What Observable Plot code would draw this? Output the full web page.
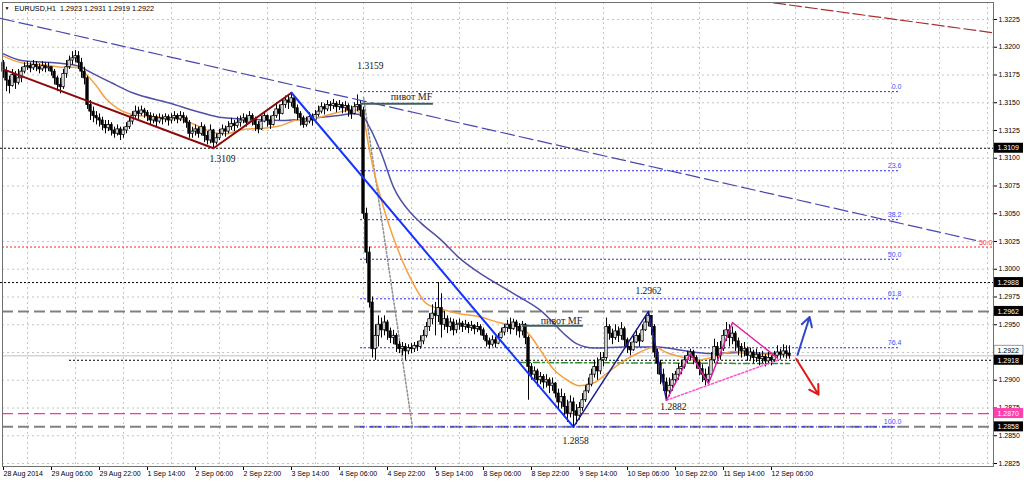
<!DOCTYPE html>
<html><head><meta charset="utf-8">
<script src="https://cdn.jsdelivr.net/npm/d3@7"></script>
<script src="https://cdn.jsdelivr.net/npm/@observablehq/plot@0.6"></script>
<style>html,body{margin:0;padding:0;background:#fff;} svg{display:block}</style>
</head><body><div id="chart"></div>
<script>
// ---- Candle data (EURUSD H1), bar index 0 = 28 Aug 14:00 ----
const firstOpen = 1.3186;
const closes = [
1.3178,1.3170,1.3165,1.3175,1.3168,1.3172,1.3178,1.3182,
1.3183,1.3181,1.3184,1.3182,1.3180,1.3183,1.3181,1.3182,
1.3178,1.3172,1.3166,1.3164,1.3176,1.3182,1.3188,1.3190,
1.3192,1.3186,1.3178,1.3172,1.3148,1.3142,1.3138,1.3136,
1.3134,1.3130,1.3127,1.3130,1.3125,1.3122,1.3126,1.3121,
1.3125,1.3128,1.3133,1.3138,1.3142,1.3140,1.3143,1.3141,
1.3138,1.3134,1.3137,1.3133,1.3136,1.3135,1.3137,1.3134,
1.3136,1.3138,1.3135,1.3138,1.3136,1.3132,1.3122,1.3124,
1.3126,1.3122,1.3128,1.3120,1.3116,1.3125,1.3114,1.3118,
1.3122,1.3126,1.3124,1.3128,1.3131,1.3129,1.3132,1.3134,
1.3136,1.3132,1.3138,1.3135,1.3130,1.3126,1.3133,1.3138,
1.3134,1.3130,1.3138,1.3144,1.3140,1.3148,1.3152,1.3150,
1.3154,1.3145,1.3140,1.3136,1.3130,1.3133,1.3137,1.3134,
1.3139,1.3142,1.3146,1.3144,1.3148,1.3147,1.3149,1.3146,
1.3148,1.3145,1.3147,1.3143,1.3140,1.3146,1.3148,1.3143,
1.3050,1.3015,1.2970,1.2928,1.2940,1.2950,1.2945,1.2952,
1.2944,1.2938,1.2940,1.2932,1.2928,1.2930,1.2926,1.2929,
1.2928,1.2931,1.2930,1.2935,1.2940,1.2948,1.2955,1.2960,
1.2958,1.2965,1.2950,1.2955,1.2948,1.2952,1.2945,1.2950,
1.2951,1.2948,1.2950,1.2947,1.2949,1.2946,1.2948,1.2945,
1.2940,1.2935,1.2932,1.2936,1.2933,1.2938,1.2943,1.2947,
1.2950,1.2946,1.2952,1.2948,1.2944,1.2950,1.2938,1.2912,
1.2905,1.2908,1.2900,1.2903,1.2898,1.2900,1.2895,1.2897,
1.2888,1.2880,1.2885,1.2876,1.2870,1.2880,1.2872,1.2868,
1.2875,1.2882,1.2890,1.2896,1.2905,1.2912,1.2908,1.2918,
1.2920,1.2948,1.2942,1.2938,1.2944,1.2940,1.2946,1.2936,
1.2930,1.2927,1.2934,1.2940,1.2935,1.2945,1.2952,1.2958,
1.2948,1.2925,1.2915,1.2905,1.2898,1.2890,1.2895,1.2900,
1.2905,1.2910,1.2912,1.2918,1.2922,1.2925,1.2920,1.2916,
1.2910,1.2905,1.2900,1.2905,1.2918,1.2930,1.2922,1.2928,
1.2940,1.2945,1.2938,1.2942,1.2935,1.2930,1.2926,1.2928,
1.2922,1.2925,1.2920,1.2923,1.2919,1.2921,1.2917,1.2920,
1.2918,1.2922,1.2925,1.2923,1.2926,1.2924,1.2922];
const highs = [
1.3188,1.3182,1.3174,1.3180,1.3178,1.3180,1.3182,1.3186,
1.3187,1.3186,1.3188,1.3187,1.3185,1.3187,1.3186,1.3186,
1.3182,1.3180,1.3174,1.3172,1.3180,1.3188,1.3192,1.3196,
1.3197,1.3196,1.3190,1.3182,1.3174,1.3152,1.3146,1.3142,
1.3140,1.3137,1.3134,1.3134,1.3132,1.3128,1.3130,1.3128,
1.3128,1.3132,1.3137,1.3142,1.3147,1.3146,1.3147,1.3145,
1.3143,1.3141,1.3140,1.3139,1.3140,1.3139,1.3140,1.3139,
1.3140,1.3142,1.3140,1.3142,1.3141,1.3138,1.3134,1.3128,
1.3130,1.3128,1.3132,1.3130,1.3124,1.3130,1.3126,1.3122,
1.3126,1.3130,1.3129,1.3133,1.3136,1.3134,1.3137,1.3138,
1.3140,1.3139,1.3142,1.3140,1.3137,1.3133,1.3138,1.3142,
1.3139,1.3138,1.3142,1.3150,1.3148,1.3153,1.3156,1.3157,
1.3159,1.3156,1.3148,1.3142,1.3138,1.3137,1.3141,1.3140,
1.3143,1.3147,1.3150,1.3149,1.3152,1.3151,1.3153,1.3151,
1.3152,1.3150,1.3151,1.3149,1.3147,1.3150,1.3157,1.3152,
1.3146,1.3055,1.3020,1.2975,1.2950,1.2958,1.2956,1.2958,
1.2954,1.2947,1.2945,1.2942,1.2935,1.2934,1.2933,1.2932,
1.2933,1.2934,1.2935,1.2940,1.2945,1.2952,1.2960,1.2968,
1.2970,1.2988,1.2978,1.2962,1.2958,1.2956,1.2955,1.2954,
1.2955,1.2953,1.2954,1.2952,1.2953,1.2950,1.2952,1.2950,
1.2947,1.2942,1.2938,1.2940,1.2939,1.2942,1.2947,1.2950,
1.2954,1.2956,1.2955,1.2954,1.2951,1.2953,1.2951,1.2940,
1.2915,1.2912,1.2910,1.2907,1.2905,1.2905,1.2902,1.2902,
1.2898,1.2892,1.2892,1.2888,1.2882,1.2886,1.2884,1.2878,
1.2880,1.2888,1.2895,1.2902,1.2910,1.2918,1.2920,1.2925,
1.2925,1.2956,1.2950,1.2946,1.2950,1.2948,1.2952,1.2948,
1.2938,1.2934,1.2940,1.2946,1.2942,1.2950,1.2958,1.2962,
1.2958,1.2950,1.2928,1.2918,1.2910,1.2902,1.2902,1.2906,
1.2908,1.2915,1.2918,1.2922,1.2926,1.2928,1.2927,1.2922,
1.2918,1.2914,1.2910,1.2912,1.2925,1.2937,1.2934,1.2935,
1.2945,1.2952,1.2950,1.2948,1.2944,1.2938,1.2933,1.2934,
1.2930,1.2929,1.2927,1.2928,1.2925,1.2926,1.2923,1.2925,
1.2922,1.2926,1.2931,1.2928,1.2932,1.2931,1.2931];
const lows = [
1.3172,1.3160,1.3158,1.3164,1.3162,1.3166,1.3168,1.3176,
1.3179,1.3177,1.3179,1.3178,1.3176,1.3178,1.3177,1.3178,
1.3174,1.3166,1.3160,1.3158,1.3162,1.3172,1.3180,1.3184,
1.3186,1.3180,1.3172,1.3166,1.3144,1.3134,1.3132,1.3130,
1.3128,1.3125,1.3122,1.3124,1.3120,1.3118,1.3120,1.3116,
1.3118,1.3122,1.3126,1.3130,1.3136,1.3135,1.3138,1.3136,
1.3133,1.3130,1.3131,1.3128,1.3131,1.3130,1.3132,1.3129,
1.3131,1.3133,1.3131,1.3133,1.3131,1.3127,1.3118,1.3118,
1.3120,1.3118,1.3120,1.3114,1.3112,1.3113,1.3109,1.3112,
1.3116,1.3120,1.3119,1.3122,1.3125,1.3124,1.3127,1.3128,
1.3131,1.3128,1.3131,1.3129,1.3124,1.3122,1.3125,1.3132,
1.3128,1.3126,1.3129,1.3136,1.3134,1.3139,1.3145,1.3144,
1.3146,1.3140,1.3134,1.3129,1.3127,1.3128,1.3131,1.3129,
1.3133,1.3137,1.3140,1.3139,1.3142,1.3142,1.3144,1.3141,
1.3143,1.3140,1.3141,1.3137,1.3135,1.3139,1.3142,1.3137,
1.3045,1.3005,1.2965,1.2920,1.2918,1.2930,1.2938,1.2940,
1.2936,1.2933,1.2932,1.2925,1.2924,1.2922,1.2918,1.2923,
1.2924,1.2925,1.2926,1.2928,1.2932,1.2938,1.2944,1.2950,
1.2940,1.2952,1.2938,1.2945,1.2942,1.2944,1.2940,1.2942,
1.2945,1.2943,1.2945,1.2942,1.2944,1.2941,1.2943,1.2940,
1.2936,1.2930,1.2928,1.2930,1.2929,1.2932,1.2937,1.2940,
1.2943,1.2941,1.2945,1.2940,1.2938,1.2940,1.2932,1.2882,
1.2900,1.2900,1.2894,1.2896,1.2892,1.2893,1.2888,1.2890,
1.2884,1.2874,1.2874,1.2868,1.2862,1.2866,1.2858,1.2860,
1.2864,1.2872,1.2880,1.2888,1.2894,1.2902,1.2900,1.2905,
1.2912,1.2918,1.2936,1.2932,1.2936,1.2934,1.2936,1.2930,
1.2924,1.2922,1.2926,1.2933,1.2930,1.2934,1.2944,1.2948,
1.2940,1.2920,1.2905,1.2896,1.2890,1.2882,1.2885,1.2890,
1.2896,1.2900,1.2905,1.2910,1.2915,1.2918,1.2914,1.2910,
1.2904,1.2898,1.2895,1.2898,1.2904,1.2915,1.2915,1.2918,
1.2926,1.2935,1.2930,1.2932,1.2926,1.2922,1.2920,1.2921,
1.2917,1.2918,1.2915,1.2916,1.2913,1.2915,1.2912,1.2914,
1.2913,1.2916,1.2919,1.2918,1.2920,1.2919,1.2919];

// ---- Moving averages (bar index, price) ----
const fastMaIdx = [0,6,14,20,24,27,31,34,38,42,47,52,59,64,69,74,80,86,92,97,104,111,117,120,122,124,126,128,132,137,141,146,152,159,165,170,175,179,183,188,192,197,201,207,212,217,221,226,231,238,243,250,258,262];
const fastMaVal = [1.3192,1.3186,1.3184,1.3182,1.3182,1.3177,1.3165,1.3154,1.3145,1.3140,1.3138,1.3137,1.3135,1.3130,1.3124,1.3122,1.3126,1.3127,1.3129,1.3134,1.3136,1.3141,1.3144,1.3135,1.3107,1.3082,1.3062,1.3044,1.3014,1.2985,1.2969,1.2964,1.2960,1.2957,1.2952,1.2949,1.2942,1.2927,1.2911,1.2900,1.2895,1.2898,1.2906,1.2918,1.2925,1.2930,1.2925,1.2921,1.2918,1.2922,1.2926,1.2924,1.2923,1.2922];
const slowMaIdx = [0,6,21,26,28,36,43,55,66,72,83,93,99,110,117,120,122,126,130,136,139,146,152,159,167,172,179,188,191,197,207,218,226,236,245,256,262];
const slowMaVal = [1.3194,1.3188,1.3185,1.3182,1.3179,1.3168,1.3159,1.3150,1.3141,1.3137,1.3135,1.3134,1.3135,1.3138,1.3140,1.3137,1.3128,1.3104,1.3074,1.3050,1.3042,1.3026,1.3010,1.2996,1.2983,1.2975,1.2963,1.2939,1.2933,1.2929,1.2930,1.2930,1.2927,1.2924,1.2925,1.2924,1.2924];
const longMaIdx = [172, 262];
const longMaVal = [1.2916, 1.2915];

// ---- Axis ticks ----
const priceTicks = [1.2825,1.2850,1.2875,1.2900,1.2925,1.2950,1.2975,1.3000,1.3025,1.3050,1.3075,1.3100,1.3125,1.3150,1.3175,1.3200,1.3225];
const timeTickIdx = [0,16,32,48,64,80,96,112,128,144,160,176,192,208,224,240,256];
const timeLabels = ["28 Aug 2014","29 Aug 06:00","29 Aug 22:00","1 Sep 14:00","2 Sep 06:00","2 Sep 22:00","3 Sep 14:00","4 Sep 06:00","4 Sep 22:00","5 Sep 14:00","8 Sep 06:00","8 Sep 22:00","9 Sep 14:00","10 Sep 06:00","10 Sep 22:00","11 Sep 14:00","12 Sep 06:00"];
const gridXIdx = [8,24,40,56,72,88,104,120,136,152,168,184,200,216,232,248,264,280,296,312,328];
const titleText = "EURUSD,H1  1.2923 1.2931 1.2919 1.2922";

// ---- Horizontal levels ----
const dottedLevels = [1.3109, 1.2988, 1.2918];
const dottedStartIdx = [-1, -1, 22];
const grayDashLevels = [1.2962, 1.2858];
const pinkDashLevels = [1.2870];
const redDotLevels = [1.3020];
const redDotLabels = ["50.0"];
const bidPrice = 1.2922;
const blackBoxLevels = [1.3109, 1.2988, 1.2962, 1.2918, 1.2858];
const pinkBoxLevels = [1.2870];

// ---- Fibonacci ----
const fibHigh = 1.3160, fibLow = 1.2858;
const fibRatios = [0, 23.6, 38.2, 50, 61.8, 76.4, 100];
const fibStartIdx = 119, fibEndIdx = 299;
const fibDiagIdx = [120, 136.3];
const fibDiagVal = [1.3155, 1.2858];

// ---- Drawn objects ----
const maroonZigIdx = [0, 70, 96];
const maroonZigVal = [1.3180, 1.3109, 1.3159];
const blueZigIdx = [96, 190];
const blueZigVal = [1.3159, 1.2858];
const navyZigIdx = [190, 215, 221];
const navyZigVal = [1.2858, 1.2962, 1.2882];
const pinkZigIdx = [221, 229, 235, 243, 258];
const pinkZigVal = [1.2882, 1.2924, 1.2897, 1.2952, 1.2920];
const pinkTrendIdx = [221, 259];
const pinkTrendVal = [1.2882, 1.2919];
const blueTrendIdx = [-1, 324];
const blueTrendVal = [1.3226, 1.3026];
const brownTrendIdx = [256.7, 330];
const brownTrendVal = [1.3240, 1.3213];
const upArrow = {i1: 264.7, p1: 1.2923, i2: 268.7, p2: 1.2957};
const downArrow = {i1: 264.3, p1: 1.2919, i2: 271.7, p2: 1.2887};

// ---- Text annotations ----
const annoText = ["1.3159", "1.3109", "1.2962", "1.2882", "1.2858"];
const annoIdx = [122.3, 73, 215, 223.3, 190.7];
const annoVal = [1.3183, 1.3099, 1.2980, 1.2876, 1.2845];
const pivotText = ["пивот MF", "пивот MF"];
const pivotTextIdx = [136, 186];
const pivotTextVal = [1.3155, 1.2954];
const pivotLineIdx1 = [119, 173];
const pivotLineIdx2 = [143.3, 193.3];
const pivotLineVal = [1.3149, 1.2949];

// ---- Build tables ----
const candles = closes.map((c, i) => {
  const o = i === 0 ? firstOpen : closes[i - 1];
  return {i, o, c, h: Math.max(highs[i], o, c), l: Math.min(lows[i], o, c)};
});
const pts = (idx, val) => idx.map((i, k) => ({i, p: val[k]}));
const fibLevels = fibRatios.map(r => ({r, p: fibHigh - r / 100 * (fibHigh - fibLow)}));
const X_END = 330, X_BOX2 = 340;
const BOX_H = 0.00045;

const serif = "'Liberation Serif', 'Times New Roman', serif";
const sans = "'Liberation Sans', Arial, sans-serif";

const chart = Plot.plot({
  width: 1024, height: 482,
  marginLeft: 2, marginRight: 31, marginTop: 2, marginBottom: 16,
  x: {domain: [-1/3, 330], axis: null},
  y: {domain: [1.28223, 1.32403], axis: null},
  style: {background: "#fff", fontFamily: sans, fontSize: "7px", overflow: "visible"},
  marks: [
    // grid
    Plot.ruleX(gridXIdx, {x: d => d, stroke: "#c4c4c4", strokeDasharray: "2,3"}),
    Plot.ruleY(priceTicks, {y: d => d, stroke: "#c4c4c4", strokeDasharray: "2,3"}),
    // horizontal levels
    Plot.ruleY(redDotLevels, {y: d => d, stroke: "#ff2020", strokeDasharray: "2,2"}),
    Plot.ruleY(dottedLevels, {y: d => d, x1: (d, k) => dottedStartIdx[k], x2: X_END, stroke: "#000", strokeDasharray: "2,2"}),
    Plot.ruleY([bidPrice], {y: d => d, stroke: "#c0c0c0"}),
    Plot.ruleY(grayDashLevels, {y: d => d, stroke: "#808080", strokeWidth: 2, strokeDasharray: "11,5"}),
    Plot.ruleY(pinkDashLevels, {y: d => d, stroke: "#ff30a8", strokeWidth: 1.2, strokeDasharray: "11,5"}),
    // fibonacci
    Plot.ruleY(fibLevels.filter(d => d.r !== 100), {y: "p", x1: fibStartIdx, x2: fibEndIdx, stroke: "#2a2aff", strokeDasharray: "2,2"}),
    Plot.ruleY(fibLevels.filter(d => d.r === 100), {y: "p", x1: fibStartIdx, x2: fibEndIdx, stroke: "#2a2aff", strokeDasharray: "4,2,1,2"}),
    Plot.line(pts(fibDiagIdx, fibDiagVal), {x: "i", y: "p", stroke: "#909090", strokeDasharray: "2,2"}),
    // moving averages
    Plot.line(pts(longMaIdx, longMaVal), {x: "i", y: "p", stroke: "#2e8b2e", strokeDasharray: "6,3,2,3"}),
    Plot.line(pts(slowMaIdx, slowMaVal), {x: "i", y: "p", stroke: "#5050a8", curve: "monotone-x"}),
    Plot.line(pts(fastMaIdx, fastMaVal), {x: "i", y: "p", stroke: "#f7a040", curve: "monotone-x"}),
    // candles
    Plot.ruleX(candles, {x: "i", y1: "l", y2: "h", stroke: "#000"}),
    Plot.rect(candles, {x1: d => d.i - 0.4, x2: d => d.i + 0.4, y1: "o", y2: "c",
      fill: d => d.c >= d.o ? "#fff" : "#000", stroke: "#000", strokeWidth: 0.8}),
    // trend lines
    Plot.line(pts(blueTrendIdx, blueTrendVal), {x: "i", y: "p", stroke: "#4848b0", strokeWidth: 1.2, strokeDasharray: "14,5"}),
    Plot.line(pts(brownTrendIdx, brownTrendVal), {x: "i", y: "p", stroke: "#a83030", strokeWidth: 1.2, strokeDasharray: "12,4"}),
    Plot.line(pts(maroonZigIdx, maroonZigVal), {x: "i", y: "p", stroke: "#8b0a0a", strokeWidth: 2}),
    Plot.line(pts(blueZigIdx, blueZigVal), {x: "i", y: "p", stroke: "#1535ff", strokeWidth: 2}),
    Plot.line(pts(navyZigIdx, navyZigVal), {x: "i", y: "p", stroke: "#1c1c8c", strokeWidth: 1.5}),
    Plot.line(pts(pinkTrendIdx, pinkTrendVal), {x: "i", y: "p", stroke: "#ff50d0", strokeDasharray: "2,2"}),
    Plot.line(pts(pinkZigIdx, pinkZigVal), {x: "i", y: "p", stroke: "#e01fa8", strokeWidth: 1.5}),
    Plot.arrow([upArrow], {x1: "i1", y1: "p1", x2: "i2", y2: "p2", stroke: "#3048c8", strokeWidth: 2, headLength: 8}),
    Plot.arrow([downArrow], {x1: "i1", y1: "p1", x2: "i2", y2: "p2", stroke: "#e01818", strokeWidth: 2, headLength: 8}),
    // pivot lines and texts
    Plot.ruleY(pivotLineVal, {y: d => d, x1: (d, k) => pivotLineIdx1[k], x2: (d, k) => pivotLineIdx2[k], stroke: "#3f5f5f", strokeWidth: 2}),
    Plot.text(pivotText, {x: (d, k) => pivotTextIdx[k], y: (d, k) => pivotTextVal[k], text: d => d, fontFamily: serif, fontSize: 10, fill: "#222"}),
    Plot.text(annoText, {x: (d, k) => annoIdx[k], y: (d, k) => annoVal[k], text: d => d, fontFamily: serif, fontSize: 9.5, fill: "#111"}),
    // fib labels
    Plot.text(fibLevels, {x: fibEndIdx + 0.3, y: "p", text: d => d.r.toFixed(1), textAnchor: "end", dy: -5, fill: "#3a50ff", fontSize: 7}),
    Plot.text(redDotLevels, {x: X_END, y: d => d, text: (d, k) => redDotLabels[k], textAnchor: "end", dy: -4, dx: -1, fill: "#ff3030", fontSize: 7}),
    // title
    Plot.text([titleText], {frameAnchor: "top-left", dx: 12, dy: 3, text: d => d, textAnchor: "start", fill: "#000", fontSize: 7.2}),
    Plot.text(["▼"], {frameAnchor: "top-left", dx: 2, dy: 4, text: d => d, textAnchor: "start", fill: "#000", fontSize: 5}),
    // axes
    Plot.axisY(priceTicks, {anchor: "right", tickFormat: d => d.toFixed(4), tickSize: 3, tickPadding: 2, fontSize: 7}),
    Plot.axisX(timeTickIdx, {anchor: "bottom", tickFormat: d => timeLabels[timeTickIdx.indexOf(d)], tickSize: 4, tickPadding: 1, textAnchor: "start", fontSize: 7}),
    // price boxes on the right scale
    Plot.rect([bidPrice], {x1: X_END + 0.3, x2: X_BOX2, y1: d => d + BOX_H, y2: d => d - BOX_H, dy: -5, fill: "#fff", stroke: "#999"}),
    Plot.text([bidPrice], {x: X_END + 0.3, y: d => d, text: d => d.toFixed(4), dx: 3, dy: -5, textAnchor: "start", fill: "#000", fontSize: 7}),
    Plot.rect(blackBoxLevels, {x1: X_END + 0.3, x2: X_BOX2, y1: d => d + BOX_H, y2: d => d - BOX_H, dy: d => 0, fill: "#000"}),
    Plot.text(blackBoxLevels, {x: X_END + 0.3, y: d => d, text: d => d.toFixed(4), dx: 3, textAnchor: "start", fill: "#fff", fontSize: 7}),
    Plot.rect(pinkBoxLevels, {x1: X_END + 0.3, x2: X_BOX2, y1: d => d + BOX_H, y2: d => d - BOX_H, fill: "#ff40b0"}),
    Plot.text(pinkBoxLevels, {x: X_END + 0.3, y: d => d, text: d => d.toFixed(4), dx: 3, textAnchor: "start", fill: "#fff", fontSize: 7}),
    Plot.frame({stroke: "#707070"})
  ]
});
document.getElementById("chart").appendChild(chart);
</script>
</body></html>
